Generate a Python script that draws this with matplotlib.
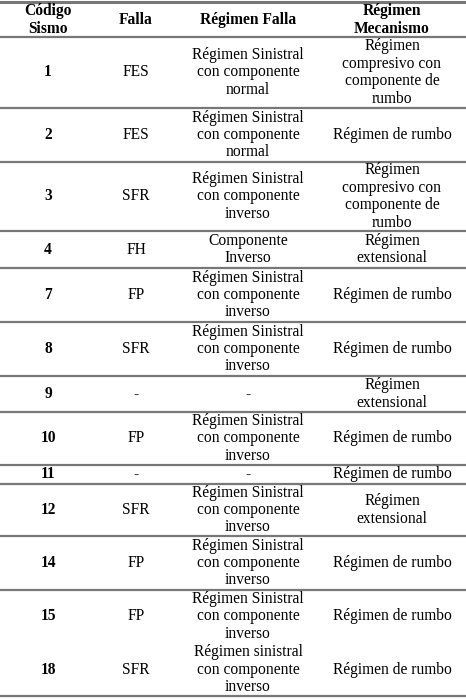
import matplotlib.pyplot as plt

header = ["Código\nSismo", "Falla", "Régimen Falla", "Régimen\nMecanismo"]
codigos = ["1", "2", "3", "4", "7", "8", "9", "10", "11", "12", "14", "15", "18"]
fallas = ["FES", "FES", "SFR", "FH", "FP", "SFR", "-", "FP", "-", "SFR", "FP", "FP", "SFR"]
reg_falla = [
    "Régimen Sinistral\ncon componente\nnormal",
    "Régimen Sinistral\ncon componente\nnormal",
    "Régimen Sinistral\ncon componente\ninverso",
    "Componente\nInverso",
    "Régimen Sinistral\ncon componente\ninverso",
    "Régimen Sinistral\ncon componente\ninverso",
    "-",
    "Régimen Sinistral\ncon componente\ninverso",
    "-",
    "Régimen Sinistral\ncon componente\ninverso",
    "Régimen Sinistral\ncon componente\ninverso",
    "Régimen Sinistral\ncon componente\ninverso",
    "Régimen sinistral\ncon componente\ninverso",
]
reg_mec = [
    "Régimen\ncompresivo con\ncomponente de\nrumbo",
    "Régimen de rumbo",
    "Régimen\ncompresivo con\ncomponente de\nrumbo",
    "Régimen\nextensional",
    "Régimen de rumbo",
    "Régimen de rumbo",
    "Régimen\nextensional",
    "Régimen de rumbo",
    "Régimen de rumbo",
    "Régimen\nextensional",
    "Régimen de rumbo",
    "Régimen de rumbo",
    "Régimen de rumbo",
]
# row boundaries in pixels (top of each row), last = bottom of table
bounds = [37, 108, 162, 231, 268, 322, 376, 412, 465, 484, 536, 590, 643, 696]
# no rule between rows 15 and 18
draw_line = [True] * 12 + [False, True]

col_x = [48, 136, 248, 392]

fig = plt.figure(figsize=(4.66, 6.99), dpi=100)
ax = fig.add_axes([0, 0, 1, 1])
ax.set_xlim(0, 466)
ax.set_ylim(699, 0)
ax.axis("off")

font = dict(family="Liberation Serif", fontsize=11.2, ha="center", va="center", linespacing=1.12)

ax.axhline(2, color="#777777", lw=2.2)
for x, h in zip(col_x, header):
    ax.text(x, 20, h, weight="bold", **font)

for i in range(len(codigos)):
    yc = (bounds[i] + bounds[i + 1]) / 2
    ax.text(col_x[0], yc, codigos[i], weight="bold", **font)
    ax.text(col_x[1], yc, fallas[i], **font)
    ax.text(col_x[2], yc, reg_falla[i], **font)
    ax.text(col_x[3], yc, reg_mec[i], **font)

for y, d in zip(bounds, draw_line):
    if d:
        ax.axhline(y, color="#777777", lw=1.6)

fig.savefig("out.png", dpi=100)
